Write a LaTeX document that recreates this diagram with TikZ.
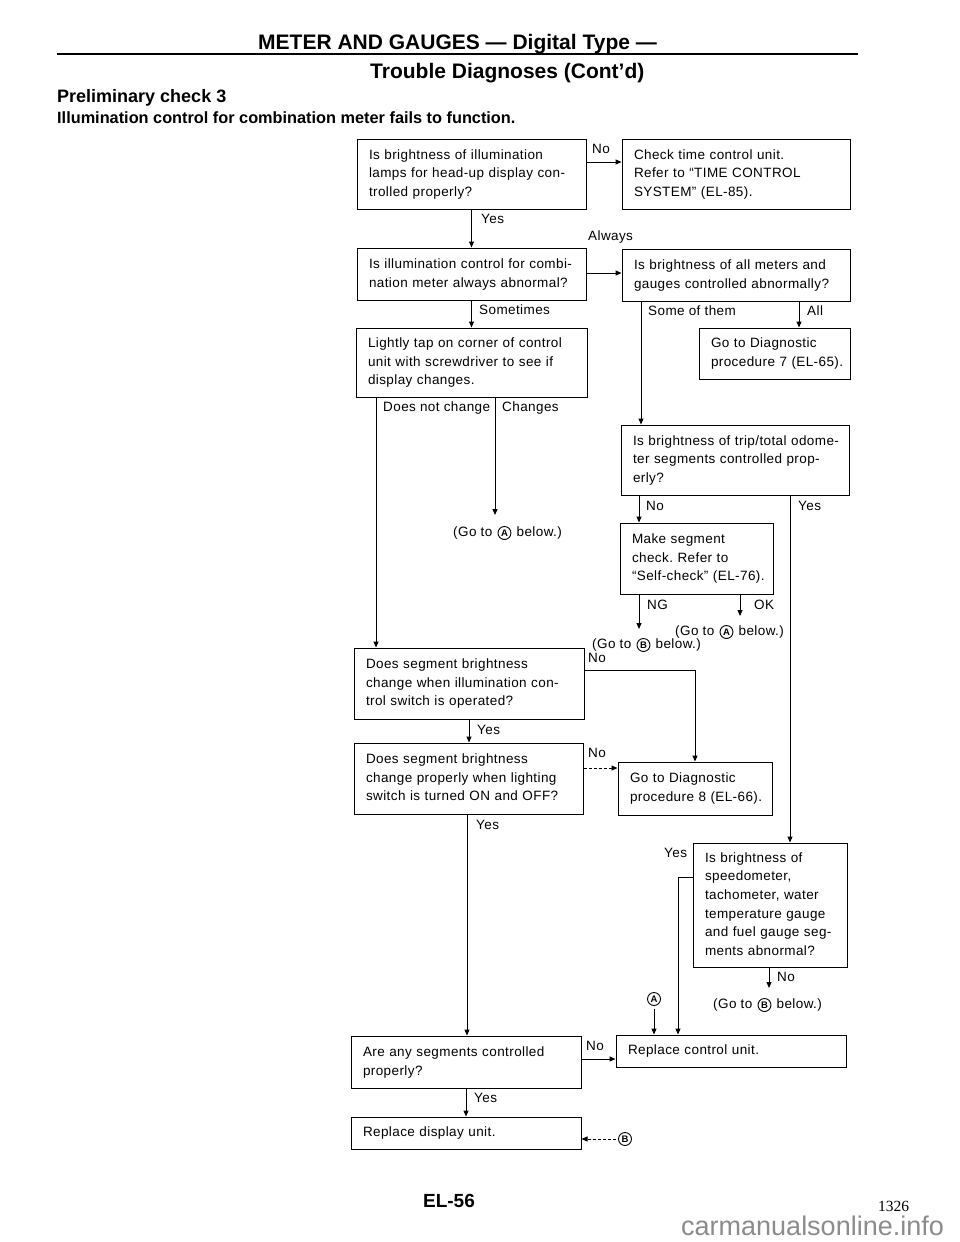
\documentclass[tikz,border=0pt]{standalone}
\usepackage{fontspec}
\setmainfont{Liberation Sans}
\newfontfamily\bodyfont{Liberation Sans}[LetterSpace=3]
\newfontfamily\numfont{Liberation Serif}
\usetikzlibrary{arrows.meta}
\newcommand{\ml}[1]{\begin{tabular}{@{}l@{}}#1\end{tabular}}
\newcommand{\bsize}{\fontsize{13.5}{18.7}\selectfont}
\tikzset{
  box/.style={draw, line width=1pt, inner xsep=12pt, inner ysep=0pt, font=\bodyfont\bsize},
  lbl/.style={font=\bodyfont\bsize, inner sep=0pt, anchor=west},
  arr/.style={line width=1pt, -{Triangle[length=6pt,width=5pt]}},
  circmark/.style={circle, draw, line width=0.9pt, minimum size=13pt, inner sep=0pt, font=\bfseries\fontsize{9.5}{9.5}\selectfont},
}
\begin{document}
\frenchspacing
\begin{tikzpicture}[x=1pt,y=-1pt]
\useasboundingbox[fill=white] (0,0) rectangle (960,1242);

% header
\node[font=\bfseries\fontsize{21}{21}\selectfont, anchor=base west, inner sep=0] (h1) at (258,49) {METER AND GAUGES --- Digital Type ---};
\draw[line width=2.5pt] (57,54) -- (858,54);
\node[font=\bfseries\fontsize{21}{21}\selectfont, anchor=base west, inner sep=0] (h2) at (370,78) {Trouble Diagnoses (Cont'd)};
\node[font=\bfseries\fontsize{18}{18}\selectfont, anchor=base west, inner sep=0] (h3) at (57,102) {Preliminary check 3};
\node[font=\bfseries\fontsize{16.3}{16.3}\selectfont, anchor=base west, inner sep=0] (h4) at (57,123) {Illumination control for combination meter fails to function.};

% boxes
\node[box, minimum width=229pt, minimum height=70pt, text width=205pt] (b1) at (471.5,174)
  {\ml{Is brightness of illumination\\lamps for head-up display con-\\trolled properly?}};
\node[box, minimum width=228pt, minimum height=70pt, text width=204pt] (b2) at (736,174)
  {\ml{Check time control unit.\\Refer to “TIME CONTROL\\SYSTEM” (EL-85).}};
\node[box, minimum width=229pt, minimum height=52pt, text width=205pt] (b3) at (471.5,274)
  {\ml{Is illumination control for combi-\\nation meter always abnormal?}};
\node[box, minimum width=228pt, minimum height=52pt, text width=204pt] (b4) at (736,275)
  {\ml{Is brightness of all meters and\\gauges controlled abnormally?}};
\node[box, minimum width=231pt, minimum height=69pt, text width=207pt] (b5) at (471.5,362.5)
  {\ml{Lightly tap on corner of control\\unit with screwdriver to see if\\display changes.}};
\node[box, minimum width=151pt, minimum height=51pt, text width=127pt] (b6) at (774.5,353.5)
  {\ml{Go to Diagnostic\\procedure 7 (EL-65).}};
\node[box, minimum width=228pt, minimum height=70pt, text width=204pt] (b7) at (735,460)
  {\ml{Is brightness of trip/total odome-\\ter segments controlled prop-\\erly?}};
\node[box, minimum width=153pt, minimum height=71pt, text width=129pt] (b8) at (696.5,558.5)
  {\ml{Make segment\\check. Refer to\\“Self-check” (EL-76).}};
\node[box, minimum width=230pt, minimum height=71pt, text width=206pt] (b9) at (469,683.5)
  {\ml{Does segment brightness\\change when illumination con-\\trol switch is operated?}};
\node[box, minimum width=229pt, minimum height=71pt, text width=205pt] (b10) at (468.5,778.5)
  {\ml{Does segment brightness\\change properly when lighting\\switch is turned ON and OFF?}};
\node[box, minimum width=154pt, minimum height=53pt, text width=130pt] (b11) at (695,788.5)
  {\ml{Go to Diagnostic\\procedure 8 (EL-66).}};
\node[box, minimum width=154pt, minimum height=124pt, text width=130pt] (b12) at (770,905)
  {\ml{Is brightness of\\speedometer,\\tachometer, water\\temperature gauge\\and fuel gauge seg-\\ments abnormal?}};
\node[box, minimum width=230pt, minimum height=32pt, text width=206pt] (b13) at (731,1051)
  {\ml{Replace control unit.}};
\node[box, minimum width=230pt, minimum height=52pt, text width=206pt] (b14) at (466,1062)
  {\ml{Are any segments controlled\\properly?}};
\node[box, minimum width=230pt, minimum height=32pt, text width=206pt] (b15) at (466,1133)
  {\ml{Replace display unit.}};

% free ends and markers
\coordinate (e1) at (495,515);
\coordinate (e2) at (639,629);
\coordinate (e3) at (740,616);
\coordinate (e4) at (769,988);
\node[circmark] (cA) at (654,999) {A};
\node[circmark] (cB) at (625,1139) {B};

% "Go to" notes: text, circled letter, text
\node[lbl] (g1) at (453,533) {(Go to};
\node[circmark, anchor=west] (g1c) at ([xshift=5pt]g1.east) {A};
\node[lbl] (g1b) at ([xshift=5pt]g1c.east) {below.)};
\node[lbl] (g2) at (675,632) {(Go to};
\node[circmark, anchor=west] (g2c) at ([xshift=5pt]g2.east) {A};
\node[lbl] (g2b) at ([xshift=5pt]g2c.east) {below.)};
\node[lbl] (g3) at (592,645) {(Go to};
\node[circmark, anchor=west] (g3c) at ([xshift=5pt]g3.east) {B};
\node[lbl] (g3b) at ([xshift=5pt]g3c.east) {below.)};
\node[lbl] (g4) at (713,1005) {(Go to};
\node[circmark, anchor=west] (g4c) at ([xshift=5pt]g4.east) {B};
\node[lbl] (g4b) at ([xshift=5pt]g4c.east) {below.)};

% connectors
\draw[arr] (b1.east |- 0,162) -- (b2.west |- 0,162);
\draw[arr] (b1.south) -- (b3.north);
\draw[arr] (b3.east |- 0,273) -- (b4.west |- 0,273);
\draw[arr] (b3.south) -- (b5.north);
\draw[arr] (b4.south -| 799,0) -- (b6.north -| 799,0);
\draw[arr] (b4.south -| 641,0) -- (b7.north -| 641,0);
\draw[arr] (b5.south -| 376,0) -- (b9.north -| 376,0);
\draw[arr] (b5.south -| e1) -- (e1);
\draw[arr] (b7.south -| 639,0) -- (b8.north -| 639,0);
\draw[arr] (b7.south -| 790,0) -- (b12.north -| 790,0);
\draw[arr] (b8.south -| e2) -- (e2);
\draw[arr] (b8.south -| e3) -- (e3);
\draw[arr] (b9.east |- 0,670) -| (b11.north);
\draw[arr] (b9.south) -- (b10.north -| b9.south);
\draw[arr, densely dashed] (b10.east |- 0,768) -- (b11.west |- 0,768);
\draw[arr] (b10.south -| 467,0) -- (b14.north -| 467,0);
\draw[arr] (b12.west |- 0,877) -| (b13.north -| 678,0);
\draw[arr] (b12.south -| e4) -- (e4);
\draw[arr] ([yshift=-3pt]cA.south) -- (b13.north -| cA.south);
\draw[arr] (b14.east |- 0,1059) -- (b13.west |- 0,1059);
\draw[arr] (b14.south) -- (b15.north -| b14.south);
\draw[arr, densely dashed] ([xshift=-2pt]cB.west) -- (b15.east |- cB.west);

% labels
\node[lbl] (l1) at (592,149) {No};
\node[lbl] (l2) at (481,219) {Yes};
\node[lbl] (l3) at (588,237) {Always};
\node[lbl] (l4) at (479,310) {Sometimes};
\node[lbl] (l5) at (648,311) {Some of them};
\node[lbl] (l6) at (807,311) {All};
\node[lbl] (l7) at (383,408) {Does not change};
\node[lbl] (l8) at (502,408) {Changes};
\node[lbl] (l9) at (646,506) {No};
\node[lbl] (l10) at (798,506) {Yes};
\node[lbl] (l11) at (647,605) {NG};
\node[lbl] (l12) at (754,605) {OK};
\node[lbl] (l13) at (588,658) {No};
\node[lbl] (l14) at (477,730) {Yes};
\node[lbl] (l15) at (588,753) {No};
\node[lbl] (l16) at (476,825) {Yes};
\node[lbl] (l17) at (664,853) {Yes};
\node[lbl] (l18) at (777,977) {No};
\node[lbl] (l19) at (586,1046) {No};
\node[lbl] (l20) at (474,1098) {Yes};

% footer
\node[font=\bfseries\fontsize{19}{19}\selectfont, anchor=base, inner sep=0] (f1) at (449,1207) {EL-56};
\node[font=\numfont\fontsize{15.5}{15.5}\selectfont, anchor=base west, inner sep=0] (f2) at (878,1211) {1326};
\node[font=\fontsize{27}{27}\selectfont, text=black!45, anchor=base west, inner sep=0] (f3) at (681,1235) {carmanualsonline.info};
\end{tikzpicture}
\end{document}
